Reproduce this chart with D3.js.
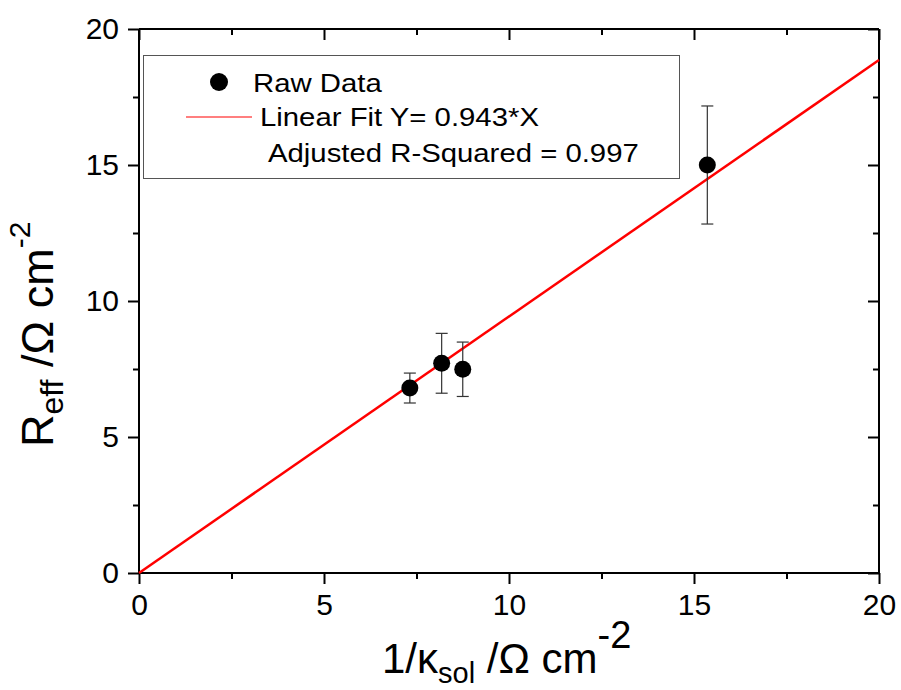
<!DOCTYPE html>
<html><head><meta charset="utf-8">
<script src="https://cdn.jsdelivr.net/npm/d3@7"></script>
<style>body{margin:0;background:#fff}svg{display:block}text{font-family:"Liberation Sans",Arial,sans-serif}</style>
</head><body><div id="chart"></div>
<script>
const xValues = [7.32, 8.18, 8.75, 15.36];
const yValues = [6.8, 7.71, 7.49, 15.0];
const yErrors = [0.55, 1.1, 1.0, 2.17];
const fitSlope = 0.943;
const xTicks = [0, 5, 10, 15, 20];
const yTicks = [0, 5, 10, 15, 20];
const minorTicks = [2.5, 7.5, 12.5, 17.5];
const legendLabels = ["Raw Data", "Linear Fit Y= 0.943*X", "Adjusted R-Squared = 0.997"];

const W = 901, H = 690;
const m = {l: 139, r: 879, t: 29, b: 573};
const svg = d3.select("#chart").append("svg").attr("width", W).attr("height", H);
const x = d3.scaleLinear().domain([0, 20]).range([m.l, m.r]);
const y = d3.scaleLinear().domain([0, 20]).range([m.b, m.t]);

const fs = 30;
const axB = svg.append("g").attr("transform", `translate(0,${m.b})`)
  .call(d3.axisBottom(x).tickValues(xTicks).tickSize(11).tickPadding(10).tickFormat(d3.format("d")));
const axBm = svg.append("g").attr("transform", `translate(0,${m.b})`)
  .call(d3.axisBottom(x).tickValues(minorTicks).tickSize(6).tickFormat(""));
const axL = svg.append("g").attr("transform", `translate(${m.l},0)`)
  .call(d3.axisLeft(y).tickValues(yTicks).tickSize(11).tickPadding(9).tickFormat(d3.format("d")));
const axLm = svg.append("g").attr("transform", `translate(${m.l},0)`)
  .call(d3.axisLeft(y).tickValues(minorTicks).tickSize(6).tickFormat(""));
const axT = svg.append("g").attr("transform", `translate(0,${m.t})`)
  .call(d3.axisTop(x).tickValues(xTicks).tickSize(-11).tickFormat(""));
const axTm = svg.append("g").attr("transform", `translate(0,${m.t})`)
  .call(d3.axisTop(x).tickValues(minorTicks).tickSize(-6).tickFormat(""));
const axR = svg.append("g").attr("transform", `translate(${m.r},0)`)
  .call(d3.axisRight(y).tickValues(yTicks).tickSize(-11).tickFormat(""));
const axRm = svg.append("g").attr("transform", `translate(${m.r},0)`)
  .call(d3.axisRight(y).tickValues(minorTicks).tickSize(-6).tickFormat(""));
svg.selectAll(".domain").attr("stroke", "#000").attr("stroke-width", 2);
[axB, axBm, axT, axTm].forEach(g => g.select(".domain").attr("d", `M${m.l},0H${m.r}`));
[axL, axLm, axR, axRm].forEach(g => g.select(".domain").attr("d", `M0,${m.t}V${m.b}`));
svg.selectAll(".tick line").attr("stroke", "#000").attr("stroke-width", 2);
svg.selectAll(".tick text").attr("font-size", fs).attr("fill", "#000").style("font-family", '"Liberation Sans",Arial,sans-serif');

// fit line
svg.append("line").attr("x1", x(0)).attr("y1", y(0)).attr("x2", x(20)).attr("y2", y(20 * fitSlope))
  .attr("stroke", "#ff0000").attr("stroke-width", 2.5);

// error bars
const data = xValues.map((v, i) => ({x: v, y: yValues[i], e: yErrors[i]}));
const eb = svg.append("g").attr("stroke", "#333").attr("stroke-width", 1.2);
data.forEach(d => {
  eb.append("line").attr("x1", x(d.x)).attr("x2", x(d.x)).attr("y1", y(d.y - d.e)).attr("y2", y(d.y + d.e));
  eb.append("line").attr("x1", x(d.x) - 6).attr("x2", x(d.x) + 6).attr("y1", y(d.y - d.e)).attr("y2", y(d.y - d.e));
  eb.append("line").attr("x1", x(d.x) - 6).attr("x2", x(d.x) + 6).attr("y1", y(d.y + d.e)).attr("y2", y(d.y + d.e));
});
svg.append("g").selectAll("circle").data(data).join("circle")
  .attr("cx", d => x(d.x)).attr("cy", d => y(d.y)).attr("r", 8.5).attr("fill", "#000");

// legend
const lg = svg.append("g");
lg.append("rect").attr("x", 143.5).attr("y", 55.5).attr("width", 536).attr("height", 123)
  .attr("fill", "#fff").attr("stroke", "#555").attr("stroke-width", 1);
lg.append("circle").attr("cx", 219).attr("cy", 82).attr("r", 9).attr("fill", "#000");
lg.append("line").attr("x1", 186).attr("x2", 252).attr("y1", 117).attr("y2", 117).attr("stroke", "#ff0000").attr("stroke-width", 1.2);
const legPos = [[253, 91.5], [260, 126], [268, 161.5]];
legendLabels.forEach((t, i) => {
  lg.append("text").attr("transform", `translate(${legPos[i][0]},${legPos[i][1]}) scale(1.15,1)`)
    .attr("font-size", 25.5).attr("fill", "#000").text(t);
});

// x title
const xt = svg.append("text").attr("x", 382).attr("y", 673).attr("font-size", 42).attr("fill", "#000");
xt.append("tspan").text("1/κ");
xt.append("tspan").attr("font-size", 29).attr("dy", 10).text("sol");
xt.append("tspan").attr("dy", -10).text(" /Ω cm");
xt.append("tspan").attr("font-size", 38).attr("dy", -25).text("-2");

// y title
const yt = svg.append("text").attr("transform", "translate(53,447) rotate(-90)").attr("font-size", 45).attr("fill", "#000");
yt.append("tspan").text("R");
yt.append("tspan").attr("font-size", 32).attr("dy", 10).text("eff");
yt.append("tspan").attr("dy", -10).text(" /Ω cm");
yt.append("tspan").attr("font-size", 30).attr("dy", -23).text("-2");
</script></body></html>
